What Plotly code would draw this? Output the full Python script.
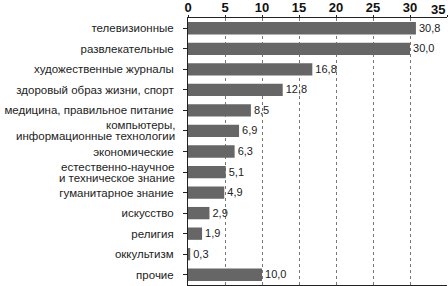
import plotly.graph_objects as go

categories = [
    "телевизионные",
    "развлекательные",
    "художественные журналы",
    "здоровый образ жизни, спорт",
    "медицина, правильное питание",
    "компьютеры,<br>информационные технологии",
    "экономические",
    "естественно-научное<br>и техническое знание",
    "гуманитарное знание",
    "искусство",
    "религия",
    "оккультизм",
    "прочие",
]
values = [30.8, 30.0, 16.8, 12.8, 8.5, 6.9, 6.3, 5.1, 4.9, 2.9, 1.9, 0.3, 10.0]
x_ticks = [0, 5, 10, 15, 20, 25, 30, 35]

FONT = "Liberation Sans, Arial"
ids = list(range(len(categories)))

fig = go.Figure(go.Bar(
    y=ids, x=values, orientation="h",
    marker=dict(color="#666666", line=dict(width=0)),
    width=0.6,
    texttemplate="%{x:.1f}", textposition="outside",
    textfont=dict(family=FONT, size=12.5, color="#222222"),
    cliponaxis=False,
))

# category labels: single-line ones as tick text, two-line ones as tight annotations
ticktext = []
for i, c in enumerate(categories):
    if "<br>" in c:
        ticktext.append("")
        lines = c.split("<br>")
        for j, ln in enumerate(lines):
            fig.add_annotation(
                xref="paper", yref="y", x=0, y=i, text=ln, showarrow=False,
                xanchor="right", yanchor="middle", xshift=-11,
                yshift=5.5 - 11 * j,
                font=dict(family=FONT, size=11.5, color="#222222"),
            )
    else:
        ticktext.append(c)

# top tick labels: last one shifted inside the figure
x_ticktext = [str(t) for t in x_ticks[:-1]] + [""]
fig.add_annotation(
    xref="x", yref="paper", x=x_ticks[-1], y=1, text=f"<b>{x_ticks[-1]}</b>",
    showarrow=False, xanchor="right", yanchor="bottom", yshift=-1,
    font=dict(family=FONT, size=13, color="#111111"),
)

fig.update_layout(
    width=448, height=286,
    margin=dict(l=188, r=1, t=18, b=1, autoexpand=False),
    paper_bgcolor="white", plot_bgcolor="white",
    separators=", ",
    showlegend=False,
    font=dict(family=FONT, size=12, color="#222222"),
    xaxis=dict(
        side="top", range=[0, 35], tickvals=x_ticks, ticktext=x_ticktext,
        tickfont=dict(size=13, color="#111111", family=FONT, weight="bold"),
        ticklabelstandoff=-2,
        showgrid=True, gridcolor="#777777", griddash="3px,3px", gridwidth=1,
        showline=True, linecolor="#222222", linewidth=1, mirror=True,
        ticks="outside", ticklen=2, tickcolor="#222222",
        zeroline=False, automargin=False,
    ),
    yaxis=dict(
        range=[12.5, -0.5], tickvals=ids, ticktext=ticktext,
        showline=True, linecolor="#222222", linewidth=1,
        ticks="outside", tickson="boundaries", ticklen=4, tickcolor="#222222",
        tickfont=dict(size=11.5, color="#222222", family=FONT),
        ticklabelstandoff=7,
        showgrid=False, automargin=False,
    ),
)

fig.write_html("out.html", config={"displayModeBar": False})

# remove default page margin so the figure sits at the window's corner
with open("out.html", encoding="utf-8") as f:
    html = f.read()
html = html.replace("<head>", "<head><style>html,body{margin:0;padding:0;overflow:hidden}</style>", 1)
with open("out.html", "w", encoding="utf-8") as f:
    f.write(html)
